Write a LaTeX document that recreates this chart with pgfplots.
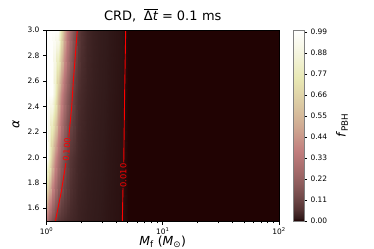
\documentclass[border=0pt]{standalone}
\usepackage{pgfplots}
\pgfplotsset{compat=1.18}
\usepackage{fontspec}
\setmainfont{DejaVu Sans}
\begin{document}
\begin{tikzpicture}
\useasboundingbox (0,0) rectangle (374bp,249bp);
\begin{axis}[
  at={(46.5bp,28bp)}, anchor=south west,
  scale only axis, width=232.5bp, height=191bp,
  view={0}{90},
  xmode=log, xmin=1, xmax=100, ymin=1.5, ymax=3.0, zmin=0, zmax=1,
  ztick=\empty,
  axis on top,
  axis line style={line width=0.6bp},
  tick align=outside, tick pos=left,
  major tick length=3.5bp, minor tick length=2bp,
  every tick/.style={line width=0.6bp, black},
  xtick={1,10,100},
  xticklabels={10\textsuperscript{0},10\textsuperscript{1},10\textsuperscript{2}},
  ytick={1.6,1.8,2.0,2.2,2.4,2.6,2.8,3.0},
  yticklabel style={/pgf/number format/.cd, fixed, fixed zerofill, precision=1, assume math mode=true},
  tick label style={font=\fontsize{7.5}{9}\selectfont},
  title={CRD,\hspace{0.6em}$\overline{\hbox{Δ\textit{t}}}$\hspace{0.3em}=\hspace{0.3em}0.1\hspace{0.35em}ms},
  title style={font=\fontsize{13}{14}\selectfont, at={(axis description cs:0.5,1.021)}, anchor=base},
  xlabel={\textit{M}\textsubscript{f} (\textit{M}\textsubscript{⊙})},
  xlabel style={font=\fontsize{12.5}{14}\selectfont, at={(axis description cs:0.5,-0.127)}, anchor=base},
  ylabel={\textit{α}},
  ylabel style={font=\fontsize{12.5}{14}\selectfont, at={(axis description cs:-0.131,0.508)}, anchor=center},
  colormap={pinkmpl}{rgb(0pt)=(0.118,0,0); rgb(16pt)=(0.196,0.103,0.103); rgb(63pt)=(0.334,0.205,0.205); rgb(125pt)=(0.444,0.289,0.289); rgb(187pt)=(0.543,0.353,0.353); rgb(250pt)=(0.628,0.408,0.408); rgb(365pt)=(0.759,0.493,0.493); rgb(500pt)=(0.816,0.672,0.577); rgb(600pt)=(0.856,0.778,0.632); rgb(746pt)=(0.911,0.911,0.705); rgb(875pt)=(0.957,0.957,0.867); rgb(1000pt)=(1,1,1)},
  point meta min=0, point meta max=1,
  colorbar shift/.style={xshift=14bp},
  colorbar,
  colorbar style={
    at={(parent axis.north east)}, anchor=north west,
    scale only axis, width=11bp, height=191bp,
    axis line style={gray, line width=0.6bp},
    ytick={0,0.11,0.22,0.33,0.44,0.55,0.66,0.77,0.88,0.99},
    ytick pos=right, yticklabel pos=right, tick align=outside,
    major tick length=3bp,
    every tick/.style={line width=0.6bp, black},
    yticklabel style={font=\fontsize{7.5}{9}\selectfont, /pgf/number format/.cd, fixed, fixed zerofill, precision=2, assume math mode=true},
    ylabel={\textit{f}\textsubscript{PBH}},
    ylabel style={font=\fontsize{12.5}{14}\selectfont, at={(axis description cs:4.45,0.5)}, anchor=center},
  },
]
\addplot3[surf, shader=interp] table {
1.0000 1.5 0.315
1.0593 1.5 0.223
1.1220 1.5 0.158
1.1885 1.5 0.1117
1.2589 1.5 0.0757
1.3335 1.5 0.0618
1.4125 1.5 0.0530
1.4962 1.5 0.0463
1.5849 1.5 0.0411
1.6788 1.5 0.0368
1.7783 1.5 0.0333
1.8836 1.5 0.0290
1.9953 1.5 0.0260
2.2387 1.5 0.0210
2.5119 1.5 0.0180
2.8184 1.5 0.0157
3.1623 1.5 0.0138
3.5481 1.5 0.0123
3.9811 1.5 0.0110
4.4668 1.5 0.0100
5.0119 1.5 0.002
100 1.5 0.002

1.0000 2.0 0.99
1.0593 2.0 0.839
1.1220 2.0 0.594
1.1885 2.0 0.421
1.2589 2.0 0.298
1.3335 2.0 0.211
1.4125 2.0 0.149
1.4962 2.0 0.1057
1.5849 2.0 0.0705
1.6788 2.0 0.0571
1.7783 2.0 0.0470
1.8836 2.0 0.0400
1.9953 2.0 0.0345
2.2387 2.0 0.0260
2.5119 2.0 0.0210
2.8184 2.0 0.0175
3.1623 2.0 0.0150
3.5481 2.0 0.0130
3.9811 2.0 0.0115
4.4668 2.0 0.0102
5.0119 2.0 0.002
100 2.0 0.002

1.0000 2.5 0.99
1.0593 2.5 0.99
1.1220 2.5 0.99
1.1885 2.5 0.817
1.2589 2.5 0.578
1.3335 2.5 0.409
1.4125 2.5 0.290
1.4962 2.5 0.205
1.5849 2.5 0.145
1.6788 2.5 0.1028
1.7783 2.5 0.0670
1.8836 2.5 0.0530
1.9953 2.5 0.0435
2.2387 2.5 0.0310
2.5119 2.5 0.0240
2.8184 2.5 0.0192
3.1623 2.5 0.0160
3.5481 2.5 0.0137
3.9811 2.5 0.0119
4.4668 2.5 0.0105
5.0119 2.5 0.002
100 2.5 0.002

1.0000 3.0 0.99
1.0593 3.0 0.99
1.1220 3.0 0.99
1.1885 3.0 0.99
1.2589 3.0 0.99
1.3335 3.0 0.731
1.4125 3.0 0.518
1.4962 3.0 0.366
1.5849 3.0 0.259
1.6788 3.0 0.1837
1.7783 3.0 0.130
1.8836 3.0 0.0834
1.9953 3.0 0.0590
2.2387 3.0 0.0380
2.5119 3.0 0.0270
2.8184 3.0 0.0205
3.1623 3.0 0.0168
3.5481 3.0 0.0142
3.9811 3.0 0.0124
4.4668 3.0 0.0108
5.0119 3.0 0.002
100 3.0 0.002
};
% contour f = 0.1
\addplot[red, line width=0.9bp] coordinates {(1.194,1.5) (1.340,1.73) (1.469,1.955)};
\addplot[red, line width=0.9bp] coordinates {(1.556,2.16) (1.648,2.4) (1.702,2.6) (1.770,2.8) (1.841,3.0)};
% contour f = 0.01
\addplot[red, line width=0.9bp] coordinates {(4.49,1.5) (4.55,1.76)};
\addplot[red, line width=0.9bp] coordinates {(4.62,1.96) (4.70,2.5) (4.80,3.0)};
\node[red, rotate=86, font=\fontsize{8.3}{9}\selectfont, inner sep=0pt] at (axis cs:1.493,2.058,0) {0.100};
\node[red, rotate=90, font=\fontsize{8.3}{9}\selectfont, inner sep=0pt] at (axis cs:4.58,1.857,0) {0.010};
\end{axis}
\end{tikzpicture}
\end{document}
